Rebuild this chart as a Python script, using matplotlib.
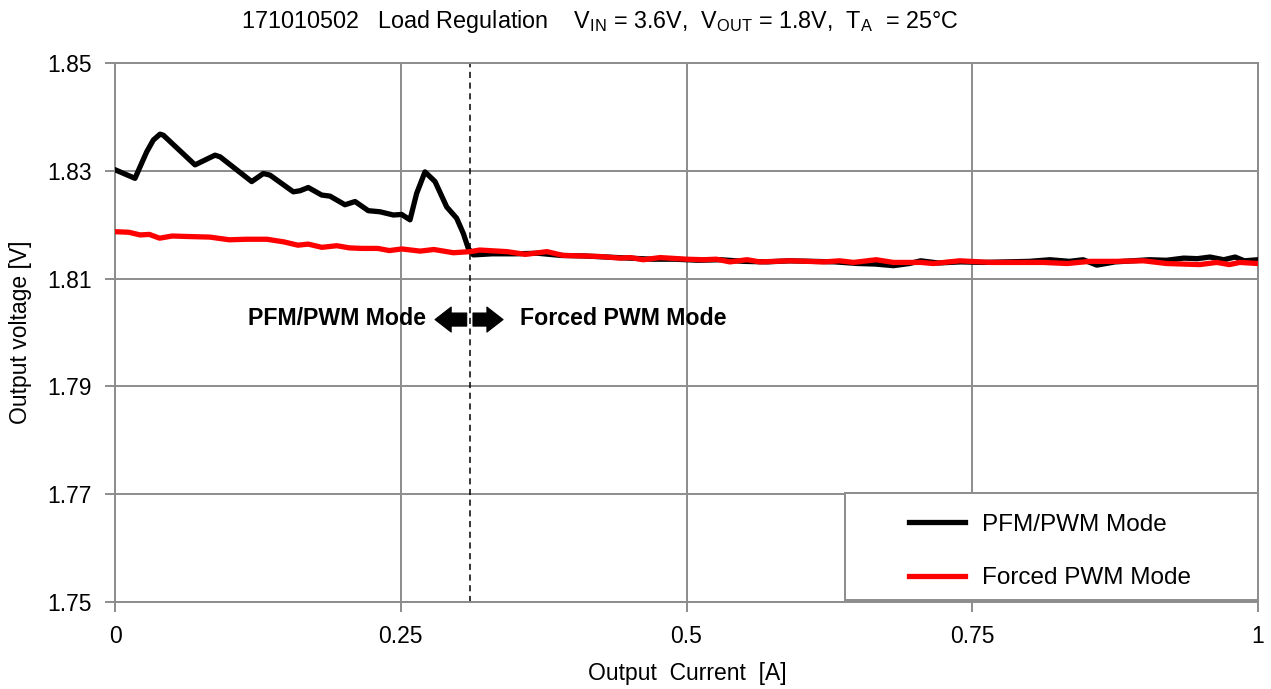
import matplotlib
matplotlib.use("Agg")
import matplotlib.pyplot as plt
from matplotlib.patches import Rectangle

# PFM/PWM mode (black)
x_pfm = [0, 0.0175, 0.0233, 0.0277, 0.0335, 0.0394, 0.0423, 0.070, 0.0875, 0.0919,
         0.1196, 0.1298, 0.1356, 0.156, 0.1619, 0.1691, 0.1808, 0.1881, 0.2012, 0.21,
         0.2216, 0.2318, 0.2435, 0.2508, 0.2581, 0.2639, 0.2712, 0.280, 0.2902, 0.2989,
         0.3047, 0.3091, 0.3135, 0.33, 0.35, 0.37, 0.39, 0.41, 0.43, 0.45,
         0.47, 0.49, 0.51, 0.53, 0.55, 0.57, 0.59, 0.61, 0.63, 0.65,
         0.665, 0.681, 0.695, 0.705, 0.72, 0.74, 0.76, 0.78, 0.80, 0.818,
         0.835, 0.847, 0.859, 0.875, 0.89, 0.905, 0.92, 0.935, 0.947, 0.958,
         0.97, 0.98, 0.988, 1.0]
v_pfm = [1.8302, 1.8286, 1.8314, 1.8335, 1.8357, 1.8368, 1.8366, 1.8311, 1.8329, 1.8326,
         1.8280, 1.8295, 1.8292, 1.8261, 1.8263, 1.8269, 1.8255, 1.8253, 1.8237, 1.8243,
         1.8226, 1.8224, 1.8218, 1.8219, 1.8209, 1.8258, 1.8298, 1.8280, 1.8233, 1.8212,
         1.8184, 1.8156, 1.8144, 1.8146, 1.8146, 1.8147, 1.8143, 1.8142, 1.8140, 1.8138,
         1.8136, 1.8136, 1.8134, 1.8135, 1.8132, 1.8131, 1.8133, 1.8132, 1.8131, 1.8128,
         1.8127, 1.8124, 1.8128, 1.8133, 1.8129, 1.8131, 1.8130, 1.8131, 1.8132, 1.8135,
         1.8132, 1.8135, 1.8125, 1.8131, 1.8133, 1.8135, 1.8134, 1.8138, 1.8137, 1.8140,
         1.8135, 1.8140, 1.8133, 1.8135]

# Forced PWM mode (red)
x_fpwm = [0, 0.012, 0.022, 0.03, 0.039, 0.05, 0.065, 0.083, 0.1, 0.115,
          0.133, 0.148, 0.16, 0.169, 0.181, 0.194, 0.205, 0.216, 0.23, 0.24,
          0.251, 0.267, 0.279, 0.296, 0.3106, 0.319, 0.343, 0.359, 0.378, 0.392,
          0.41, 0.424, 0.442, 0.451, 0.462, 0.477, 0.5, 0.515, 0.526, 0.538,
          0.553, 0.564, 0.591, 0.62, 0.634, 0.646, 0.666, 0.681, 0.705, 0.716,
          0.739, 0.766, 0.789, 0.812, 0.833, 0.853, 0.876, 0.9, 0.92, 0.949,
          0.964, 0.975, 0.984, 1.0]
v_fpwm = [1.8187, 1.8186, 1.8181, 1.8182, 1.8175, 1.8179, 1.8178, 1.8177, 1.8172, 1.8173,
          1.8173, 1.8168, 1.8162, 1.8164, 1.8158, 1.8161, 1.8157, 1.8156, 1.8156, 1.8152,
          1.8155, 1.8151, 1.8154, 1.8148, 1.8150, 1.8153, 1.8150, 1.8145, 1.8150, 1.8143,
          1.8142, 1.8141, 1.8138, 1.8139, 1.8135, 1.8139, 1.8136, 1.8135, 1.8136, 1.8131,
          1.8135, 1.8131, 1.8133, 1.8131, 1.8133, 1.8130, 1.8135, 1.8130, 1.8130, 1.8128,
          1.8133, 1.8130, 1.8130, 1.8130, 1.8128, 1.8132, 1.8132, 1.8133, 1.8128, 1.8126,
          1.8130, 1.8126, 1.8130, 1.8128]

x_ticks = [0, 0.25, 0.5, 0.75, 1]
x_ticklabels = ["0", "0.25", "0.5", "0.75", "1"]
y_ticks = [1.75, 1.77, 1.79, 1.81, 1.83, 1.85]
mode_boundary = 0.3106

plt.rcParams['font.family'] = ['Liberation Sans', 'DejaVu Sans']
plt.rcParams['mathtext.fontset'] = 'custom'
plt.rcParams['mathtext.rm'] = 'Liberation Sans'
grey = "#8c8c8c"

fig = plt.figure(figsize=(12.71, 6.89), dpi=100)
ax = fig.add_axes([115/1271, 1-602/689, 1143/1271, 539/689])

ax.plot(x_pfm, v_pfm, color="black", lw=3.8, label="PFM/PWM Mode", zorder=3)
ax.plot(x_fpwm, v_fpwm, color="#ff0000", lw=3.8, label="Forced PWM Mode", zorder=3.5)
ax.axvline(mode_boundary, color="black", lw=1.1, ls=(0, (4, 3)), zorder=2.5)

ax.set_xlim(0, 1)
ax.set_ylim(1.75, 1.85)
ax.set_xticks(x_ticks)
ax.set_xticklabels(x_ticklabels)
ax.set_yticks(y_ticks)
ax.grid(True, color=grey, lw=1.4)
for s in ax.spines.values():
    s.set_color(grey)
    s.set_linewidth(1.4)
ax.tick_params(axis="both", colors=grey, labelcolor="black", length=7, width=1.4,
               labelsize=16.5)
ax.tick_params(axis="x", pad=9.5)
ax.tick_params(axis="y", pad=10)

# axis labels placed where the reference has them
fig.text(687/1271, 1-680/689, "Output  Current  [A]", ha="center", va="baseline",
         fontsize=16.5)
fig.text(21/1271, 1-332.5/689, "Output voltage [V]", ha="center", va="center",
         rotation=90, fontsize=16.5)

# mode annotations
ax.text(0.2721, 1.8026, "PFM/PWM Mode", ha="right", va="center", fontsize=16.7,
        fontweight="bold")
ax.text(0.354, 1.8026, "Forced PWM Mode", ha="left", va="center", fontsize=16.7,
        fontweight="bold")
arrow = dict(arrowstyle="simple,head_length=0.58,head_width=0.9,tail_width=0.47",
             mutation_scale=20, facecolor="black", edgecolor="black", lw=0.8,
             joinstyle="round", shrinkA=0, shrinkB=0)
ax.annotate("", xy=(0.280, 1.8024), xytext=(0.3077, 1.8024), arrowprops=arrow)
ax.annotate("", xy=(0.3395, 1.8024), xytext=(0.3132, 1.8024), arrowprops=arrow)

# legend with its own frame
ax.add_patch(Rectangle((0.6387, 0.004), 0.3613, 0.198, transform=ax.transAxes,
                       facecolor="white", edgecolor=grey, lw=1.4, zorder=4))
leg = ax.legend(loc="center", bbox_to_anchor=(0.8184, 0.0937), frameon=False,
                fontsize=17.5, handlelength=2.3, handletextpad=0.7, labelspacing=1.3)
leg.set_zorder(5)

fig.text(241/1271, 1-28.3/689,
         r"171010502   Load Regulation    V$_{\rm IN}$ = 3.6V,  V$_{\rm OUT}$ = 1.8V,  T$_{\rm A}$  = 25°C",
         ha="left", va="baseline", fontsize=16.8)

fig.savefig("out.png", dpi=100)
